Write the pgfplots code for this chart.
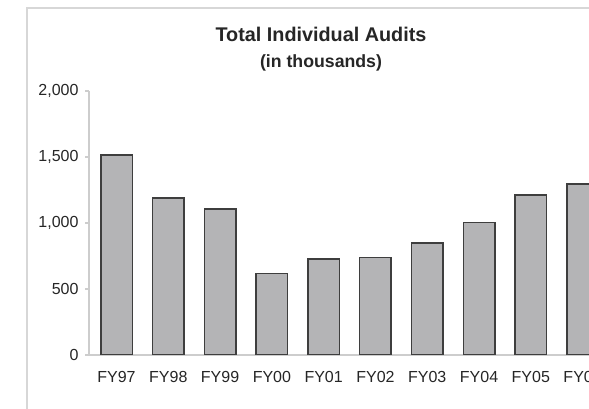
\documentclass[border=0pt]{standalone}
\usepackage{pgfplots}
\pgfplotsset{compat=1.18}
\usepackage{fontspec}
\setmainfont{Liberation Sans}

\definecolor{barfill}{RGB}{180,180,182}
\definecolor{baredge}{RGB}{62,62,62}
\definecolor{axisgray}{RGB}{205,205,205}
\definecolor{framegray}{RGB}{215,215,215}
\definecolor{textgray}{RGB}{38,38,38}

\begin{document}
\begin{tikzpicture}[x=1pt,y=1pt]
\useasboundingbox (0,0) rectangle (589,409);
\clip (0,0) rectangle (589,409);
\fill[white] (0,0) rectangle (589,409);
% chart frame (continues beyond the visible area on the right and bottom)
\draw[framegray, line width=1.8pt] (27,-20) -- (27,401) -- (640,401);

% title
\node[anchor=base, text=textgray, font=\fontsize{19.8}{22}\selectfont\bfseries] at (321,367.5) {Total Individual Audits};
\node[anchor=base, text=textgray, font=\fontsize{17.7}{20}\selectfont\bfseries] at (321,341.5) {(in thousands)};

\begin{axis}[
  at={(116.5pt,54pt)}, anchor=origin,
  scale only axis,
  width=521pt, height=264pt,
  xmin=-0.53, xmax=9.53,
  ymin=0, ymax=2000,
  ybar, bar width=31.5pt,
  axis x line=bottom, axis y line=left,
  axis line style={-, axisgray, line width=1.3pt},
  xtick=data,
  xticklabels={FY97,FY98,FY99,FY00,FY01,FY02,FY03,FY04,FY05,FY06},
  x tick style={draw=none},
  ytick={0,500,1000,1500,2000},
  y tick style={axisgray, line width=1.3pt},
  tick align=outside,
  major tick length=4pt,
  ticklabel style={text=textgray, font=\fontsize{16}{19}\selectfont},
  xticklabel style={yshift=-9pt},
  yticklabel style={xshift=-3pt},
  /pgf/number format/.cd, 1000 sep={,}, assume math mode=true,
]
\addplot[fill=barfill, draw=baredge, line width=1.5pt] coordinates {
  (0,1515) (1,1190) (2,1105) (3,618) (4,727)
  (5,740) (6,848) (7,1005) (8,1213) (9,1295)
};
\end{axis}
\end{tikzpicture}
\end{document}
